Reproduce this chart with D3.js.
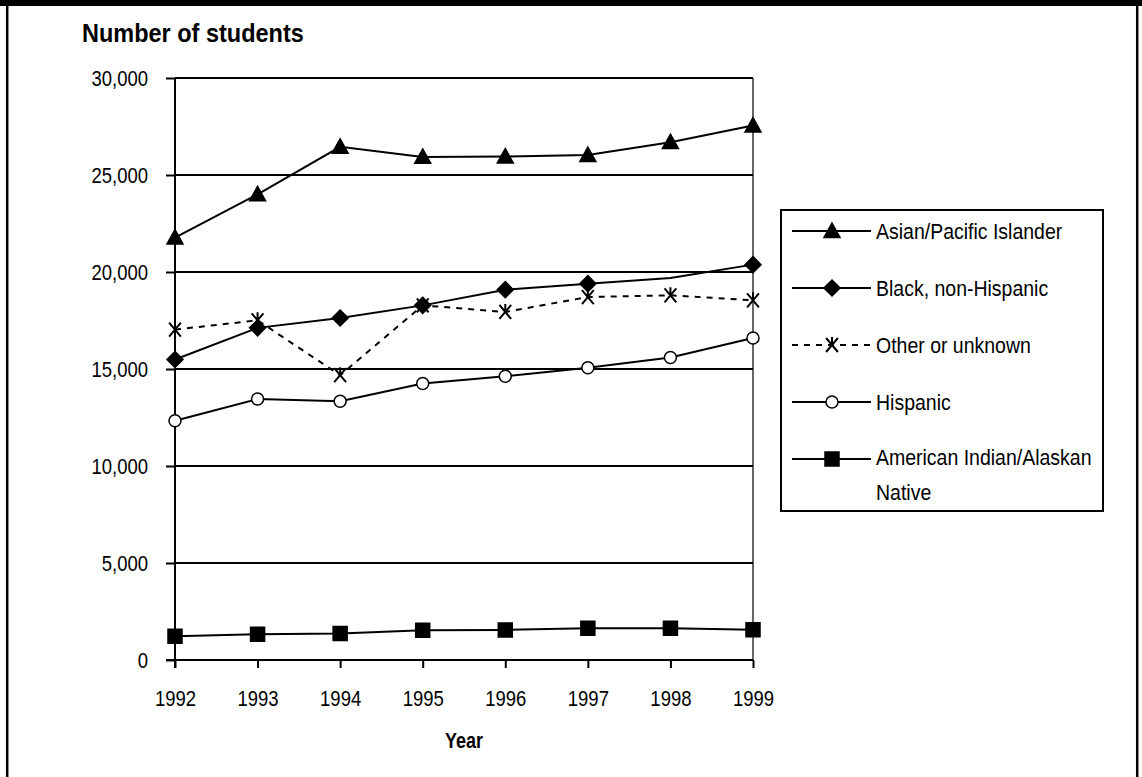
<!DOCTYPE html>
<html>
<head>
<meta charset="utf-8">
<script src="https://cdn.jsdelivr.net/npm/d3@7"></script>
<style>
  body { margin: 0; background: #fff; }
  svg { display: block; }
  text { font-family: "Liberation Sans", Arial, sans-serif; fill: #000;
         transform-box: fill-box; transform-origin: center; transform: scaleY(1.12); }
  .tick text, text.axis-title { transform: scaleY(1.2); }
</style>
</head>
<body>
<div id="chart"></div>
<script>
/* Students by race/ethnicity, 1992-1999 */
var years    = [1992, 1993, 1994, 1995, 1996, 1997, 1998, 1999];
var asian    = [21770, 24000, 26450, 25930, 25950, 26030, 26690, 27550];
var black    = [15490, 17120, 17630, 18280, 19090, 19400, 19690, 20380];
var other    = [17030, 17510, 14680, 18280, 17940, 18710, 18800, 18540];
var hispanic = [12330, 13450, 13340, 14250, 14630, 15060, 15590, 16600];
var amerInd  = [1230, 1330, 1370, 1530, 1550, 1640, 1640, 1560];
var yTicks   = [0, 5000, 10000, 15000, 20000, 25000, 30000];
var seriesNames = ['Asian/Pacific Islander', 'Black, non-Hispanic', 'Other or unknown',
                   'Hispanic', 'American Indian/Alaskan Native'];

(function () {
  var W = 1142, H = 777;
  var pLeft = 175, pRight = 753, pTop = 78, pBottom = 660;

  // custom marker shapes, size = width in px
  var triangle = { draw: function (c, s) {
    var h = s / 2; c.moveTo(0, -h); c.lineTo(h, h * 0.8); c.lineTo(-h, h * 0.8); c.closePath(); } };
  var diamond = { draw: function (c, s) {
    var h = s / 2; c.moveTo(0, -h); c.lineTo(h, 0); c.lineTo(0, h); c.lineTo(-h, 0); c.closePath(); } };
  var square = { draw: function (c, s) {
    var h = s / 2; c.rect(-h, -h, s, s); } };
  var circle = { draw: function (c, s) {
    var r = s / 2; c.moveTo(r, 0); c.arc(0, 0, r, 0, 2 * Math.PI); } };
  var asterisk = { draw: function (c, s) {
    var h = s / 2, w = s * 0.42;
    c.moveTo(-w, -h); c.lineTo(w, h);
    c.moveTo(w, -h); c.lineTo(-w, h);
    c.moveTo(0, -h - 1); c.lineTo(0, 0); } };

  var series = [
    { name: seriesNames[0], values: asian,    type: triangle, size: 16, fill: '#000', dash: null },
    { name: seriesNames[1], values: black,    type: diamond,  size: 16, fill: '#000', dash: null, skip: [1998] },
    { name: seriesNames[2], values: other,    type: asterisk, size: 14, fill: 'none', dash: '6,6' },
    { name: seriesNames[3], values: hispanic, type: circle,   size: 12, fill: '#fff', dash: null },
    { name: seriesNames[4], values: amerInd,  type: square,   size: 14, fill: '#000', dash: null }
  ];

  var svg = d3.select('#chart').append('svg')
    .attr('width', W).attr('height', H);

  // outer frame
  svg.append('rect').attr('x', 0).attr('y', 0).attr('width', W).attr('height', 6).attr('fill', '#000');
  svg.append('line').attr('x1', 7.2).attr('x2', 7.2).attr('y1', 0).attr('y2', H)
    .attr('stroke', '#000').attr('stroke-width', 2.5);
  svg.append('line').attr('x1', 1137.2).attr('x2', 1137.2).attr('y1', 0).attr('y2', H)
    .attr('stroke', '#000').attr('stroke-width', 2.5);

  var x = d3.scalePoint().domain(years).range([pLeft, pRight]);
  var y = d3.scaleLinear().domain([0, 30000]).range([pBottom, pTop]);

  // gridlines
  svg.append('g')
    .selectAll('line')
    .data(yTicks.filter(function (d) { return d > 0; }))
    .join('line')
    .attr('x1', pLeft).attr('x2', pRight)
    .attr('y1', function (d) { return y(d); })
    .attr('y2', function (d) { return y(d); })
    .attr('stroke', '#000').attr('stroke-width', 2);

  // right border of plot
  svg.append('line').attr('x1', pRight).attr('x2', pRight).attr('y1', pTop).attr('y2', pBottom)
    .attr('stroke', '#000').attr('stroke-width', 1.2);

  // y axis
  var yAxis = svg.append('g')
    .attr('transform', 'translate(' + pLeft + ',0)')
    .call(d3.axisLeft(y).tickValues(yTicks).tickSize(9).tickSizeOuter(0)
      .tickPadding(18).tickFormat(d3.format(',')));
  yAxis.select('.domain').attr('stroke-width', 2).attr('d', 'M0,' + pTop + 'V' + (pBottom + 8));
  yAxis.selectAll('.tick line').attr('stroke-width', 2);
  yAxis.selectAll('text').attr('font-size', '18.5px').attr('font-family', null).attr('fill', '#000');

  // x axis
  var xAxis = svg.append('g')
    .attr('transform', 'translate(0,' + pBottom + ')')
    .call(d3.axisBottom(x).tickSize(8).tickSizeOuter(0).tickPadding(24));
  xAxis.select('.domain').attr('stroke-width', 2).attr('d', 'M' + (pLeft - 9) + ',0H' + pRight);
  xAxis.selectAll('.tick line').attr('stroke-width', 2);
  xAxis.selectAll('text').attr('font-size', '18.5px').attr('font-family', null).attr('fill', '#000');

  // titles
  svg.append('text').attr('x', 82).attr('y', 41)
    .attr('font-size', '23.5px').attr('font-weight', 'bold')
    .text('Number of students');
  svg.append('text').attr('class', 'axis-title')
    .attr('x', (pLeft + pRight) / 2).attr('y', 747)
    .attr('text-anchor', 'middle')
    .attr('font-size', '18px').attr('font-weight', 'bold')
    .text('Year');

  // series lines
  var line = d3.line()
    .x(function (d, i) { return x(years[i]); })
    .y(function (d) { return y(d); });

  svg.append('g').attr('fill', 'none')
    .selectAll('path')
    .data(series)
    .join('path')
    .attr('d', function (s) { return line(s.values); })
    .attr('stroke', '#000')
    .attr('stroke-width', 2)
    .attr('stroke-dasharray', function (s) { return s.dash; });

  // markers
  series.forEach(function (s) {
    var pts = s.values.map(function (v, i) { return { year: years[i], value: v }; })
      .filter(function (p) { return !(s.skip && s.skip.indexOf(p.year) >= 0); });
    svg.append('g')
      .selectAll('path')
      .data(pts)
      .join('path')
      .attr('transform', function (p) { return 'translate(' + x(p.year) + ',' + y(p.value) + ')'; })
      .attr('d', d3.symbol().type(s.type).size(s.size))
      .attr('fill', s.fill)
      .attr('stroke', '#000')
      .attr('stroke-width', s.type === asterisk ? 2 : 1.5);
  });

  // legend
  var lg = svg.append('g');
  lg.append('rect').attr('x', 781).attr('y', 210).attr('width', 322).attr('height', 301)
    .attr('fill', '#fff').attr('stroke', '#000').attr('stroke-width', 2);

  var rows = lg.selectAll('g.row')
    .data(series)
    .join('g')
    .attr('class', 'row')
    .attr('transform', function (s, i) { return 'translate(0,' + (231 + i * 57) + ')'; });

  rows.append('line')
    .attr('x1', 792).attr('x2', 871).attr('y1', 0).attr('y2', 0)
    .attr('stroke', '#000').attr('stroke-width', 2)
    .attr('stroke-dasharray', function (s) { return s.dash; });

  rows.append('path')
    .attr('transform', 'translate(832,0)')
    .attr('d', function (s) { return d3.symbol().type(s.type).size(s.size)(); })
    .attr('fill', function (s) { return s.fill; })
    .attr('stroke', '#000')
    .attr('stroke-width', function (s) { return s.type === asterisk ? 2 : 1.5; });

  rows.append('text')
    .attr('x', 876).attr('y', 0).attr('dy', '0.36em')
    .attr('font-size', '19.5px')
    .each(function (s) {
      var t = d3.select(this);
      if (s.name === 'American Indian/Alaskan Native') {
        t.append('tspan').attr('x', 876).text('American Indian/Alaskan');
        t.append('tspan').attr('x', 876).attr('dy', '31').text('Native');
      } else {
        t.text(s.name);
      }
    });
})();
</script>
</body>
</html>
